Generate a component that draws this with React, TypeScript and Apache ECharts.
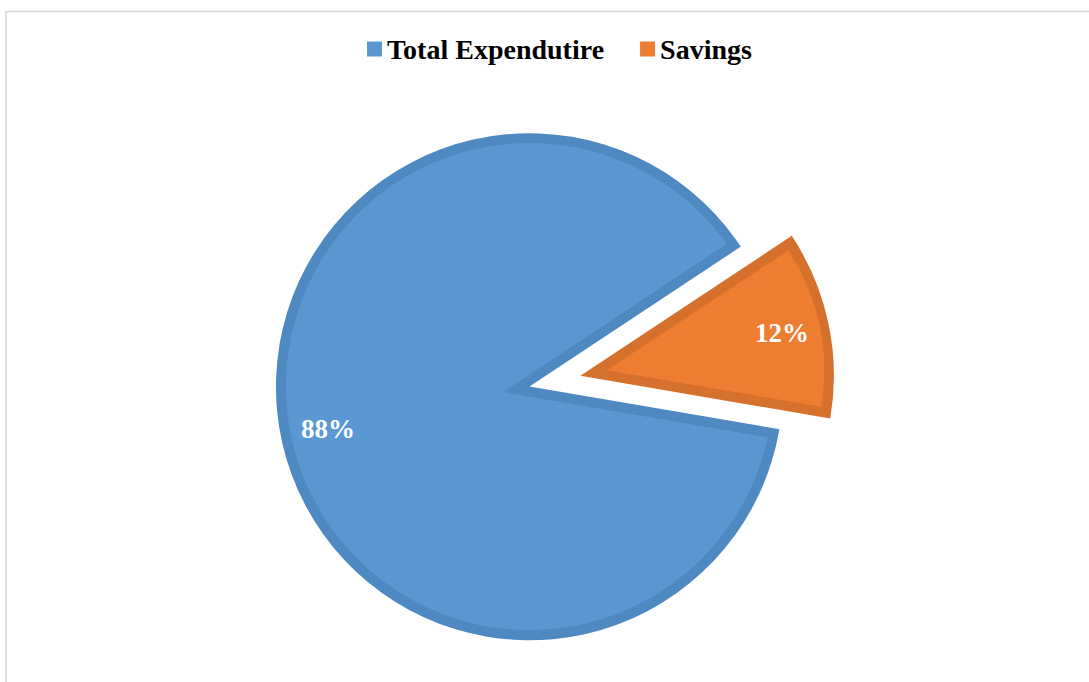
import React, { useEffect, useRef } from "react";
import * as echarts from "echarts";

const categories = ["Total Expendutire", "Savings"];
const values = [88, 12];
const fillColors = ["#5B98D3", "#ED7D31"];
const borderColors = ["#4F89C1", "#D5712C"];

export default function App() {
  const ref = useRef<HTMLDivElement>(null);

  useEffect(() => {
    if (!ref.current) return;
    const chart = echarts.init(ref.current, undefined, { renderer: "svg" });
    const center = [529.5, 386.5];
    const startAngle = 350.3;
    const offset = 52;
    const R = 253.5;
    const band = 10;
    const clear = "rgba(0,0,0,0)";
    // inset of the exploded slice: apex moves band / sin(half angle)
    const half = (values[1] / (values[0] + values[1])) * Math.PI;
    const apexShift = band / Math.sin(half);

    const base = {
      type: "pie",
      center,
      startAngle,
      clockwise: true,
      avoidLabelOverlap: false,
      silent: true,
      label: { show: false },
      labelLine: { show: false },
      emphasis: { disabled: true },
    };

    const mk = (styles: any[], selected = false) =>
      categories.map((name, i) => ({
        name,
        value: values[i],
        selected: selected && i === 1,
        itemStyle: styles[i],
      }));

    chart.setOption({
      animation: false,
      backgroundColor: "#ffffff",
      graphic: [
        {
          type: "rect",
          shape: { x: 6, y: 11.5, width: 1120, height: 720 },
          style: { fill: "none", stroke: "#d9d9d9", lineWidth: 1.6 },
          silent: true,
        },
      ],
      legend: {
        left: 362,
        top: 30,
        itemWidth: 15,
        itemHeight: 15,
        itemGap: 36,
        icon: "rect",
        selectedMode: false,
        data: categories.map((name, i) => ({
          name,
          itemStyle: { color: fillColors[i], borderWidth: 0 },
        })),
        textStyle: {
          fontFamily: "'Liberation Serif', 'Times New Roman', serif",
          fontWeight: "bold",
          fontSize: 28,
          color: "#000000",
          lineHeight: 15,
        },
      },
      series: [
        // big slice: light fill with a centred 2*band border, outer half masked later
        {
          ...base,
          radius: R,
          data: mk([
            {
              color: fillColors[0],
              borderColor: borderColors[0],
              borderWidth: band * 2,
              borderJoin: "miter",
            },
            { color: clear, borderWidth: 0 },
          ]),
        },
        // white ring masking the border outside the circle
        {
          ...base,
          radius: [R, R + 60],
          data: [{ name: "_mask", value: 1, itemStyle: { color: "#ffffff" } }],
        },
        // white wedge masking the border inside the gap
        {
          ...base,
          radius: R + 60,
          data: mk([
            { color: clear, borderWidth: 0 },
            { color: "#ffffff", borderWidth: 0 },
          ]),
        },
        // exploded slice: dark outer shape
        {
          ...base,
          radius: R,
          selectedMode: "single",
          selectedOffset: offset,
          data: mk(
            [
              { color: clear, borderWidth: 0 },
              { color: borderColors[1], borderWidth: 0 },
            ],
            true
          ),
        },
        // exploded slice: light inner shape, inset by band
        {
          ...base,
          radius: R - band - apexShift + 1,
          selectedMode: "single",
          selectedOffset: offset + apexShift,
          data: mk(
            [
              { color: clear, borderWidth: 0 },
              { color: fillColors[1], borderWidth: 0 },
            ],
            true
          ),
        },
        // labels
        {
          ...base,
          radius: [158, 248],
          selectedMode: "single",
          selectedOffset: offset,
          itemStyle: { color: clear, borderWidth: 0 },
          label: {
            show: true,
            position: "inside",
            formatter: "{c}%",
            color: "#ffffff",
            fontFamily: "'Liberation Serif', 'Times New Roman', serif",
            fontWeight: "bold",
            fontSize: 27,
          },
          data: categories.map((name, i) => ({
            name,
            value: values[i],
            selected: i === 1,
          })),
        },
      ],
    });

    return () => chart.dispose();
  }, []);

  return (
    <div
      ref={ref}
      style={{ position: "fixed", left: 0, top: 0, width: 1089, height: 682 }}
    />
  );
}
